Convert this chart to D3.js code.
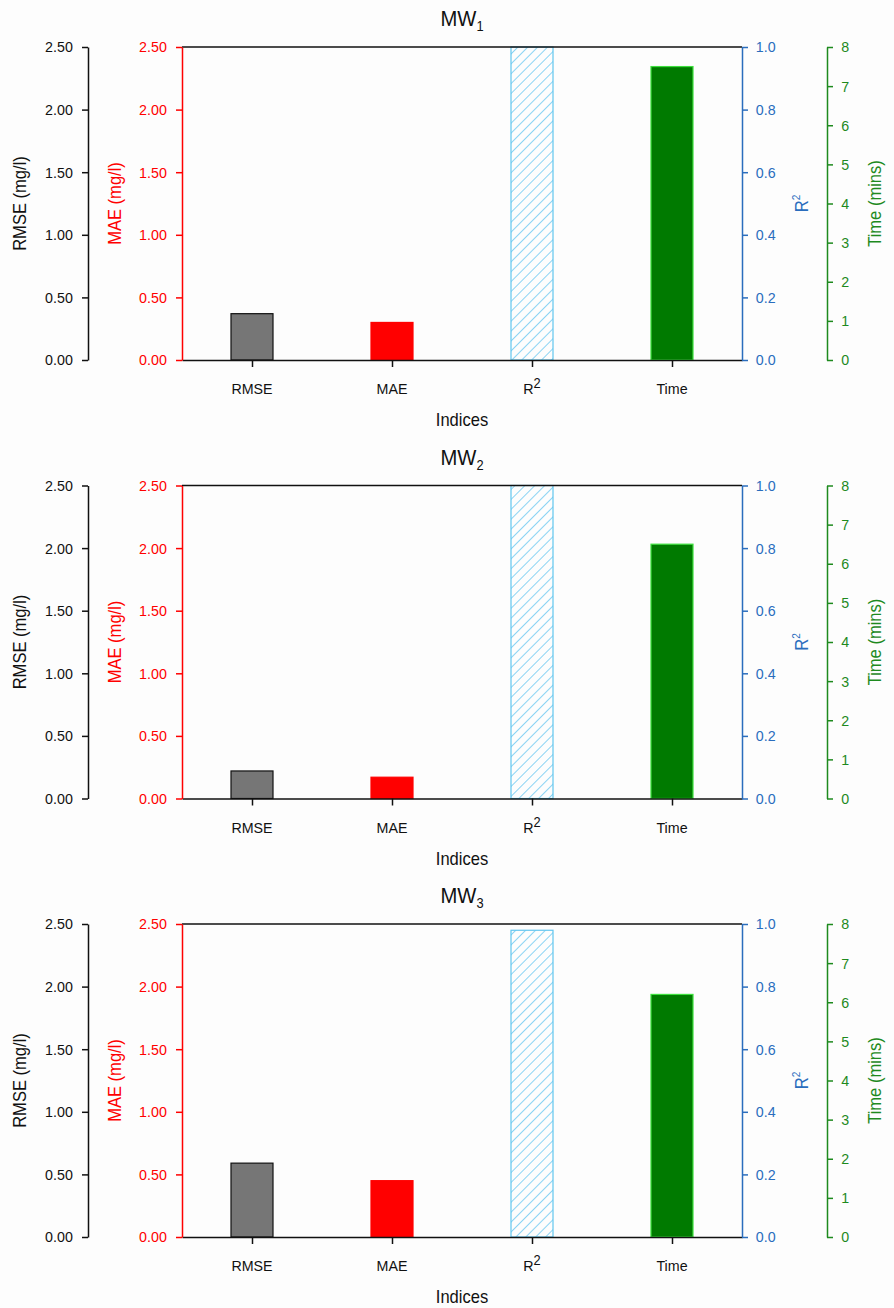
<!DOCTYPE html>
<html><head><meta charset="utf-8">
<script src="https://cdn.jsdelivr.net/npm/d3@7"></script>
<style>body{margin:0;background:#fdfdfd}svg{display:block}text{font-family:"Liberation Sans",Arial,sans-serif}</style>
</head><body>
<script>
const categories = ["RMSE","MAE","R2","Time"];
const panelNames = ["1","2","3"]; // MW subscripts
const rmseVals = [0.37, 0.22, 0.59];
const maeVals  = [0.30, 0.17, 0.45];
const r2Vals   = [1.00, 1.00, 0.98];
const timeVals = [7.5, 6.5, 6.2];
const errTicks  = [0, 0.5, 1.0, 1.5, 2.0, 2.5];
const r2Ticks   = [0, 0.2, 0.4, 0.6, 0.8, 1.0];
const timeTicks = [0,1,2,3,4,5,6,7,8];

const W = 894, H = 1308;
const SX = 0.92; // slight horizontal condensing of glyphs
const svg = d3.select("body").append("svg").attr("width", W).attr("height", H);
svg.append("rect").attr("width", W).attr("height", H).attr("fill", "#fdfdfd");

const defs = svg.append("defs");
const pat = defs.append("pattern").attr("id","hatch").attr("patternUnits","userSpaceOnUse")
  .attr("width",7).attr("height",7).attr("patternTransform","rotate(45)");
pat.append("line").attr("x1",0).attr("y1",0).attr("x2",0).attr("y2",7)
  .attr("stroke","#4bbdee").attr("stroke-width",1.3);

const BLACK="#111", RED="#ff0000", BLUE="#2a6dbd", GREEN="#1e8a1e";
const xL = 182, xR = 742, xBlack = 88, xGreen = 827;
const panelH = 313;
const tops = [47, 485.5, 924];

const x = d3.scaleBand().domain(categories).range([xL, xR]).paddingInner(0.7).paddingOuter(0.35);
const xc = d3.scalePoint().domain(categories).range([xL, xR]).padding(0.5);

function txt(g, x0, y0, rot) {
  return g.append("text").attr("transform", `translate(${x0},${y0})${rot ? " rotate(" + rot + ")" : ""} scale(${SX},1)`);
}

panelNames.forEach((nm, i) => {
  const top = tops[i], bot = top + panelH;
  const g = svg.append("g");
  const yErr = d3.scaleLinear().domain([0, 2.5]).range([bot, top]);
  const yR2 = d3.scaleLinear().domain([0, 1]).range([bot, top]);
  const yT = d3.scaleLinear().domain([0, 8]).range([bot, top]);

  // title
  const t = txt(g, 462, top - 21).attr("text-anchor","middle").attr("font-size", 22).attr("fill", BLACK);
  t.append("tspan").text("MW");
  t.append("tspan").attr("font-size", 14).attr("dy", 5).text(nm);

  // bars
  const bars = [
    {k:"RMSE", v: rmseVals[i], y: yErr, fill:"#767676", stroke:"#111"},
    {k:"MAE", v: maeVals[i], y: yErr, fill:RED, stroke:RED},
    {k:"R2", v: r2Vals[i], y: yR2, fill:"url(#hatch)", stroke:"#62c6ef"},
    {k:"Time", v: timeVals[i], y: yT, fill:"#007a00", stroke:"#3de03d"}
  ];
  g.selectAll("rect.bar").data(bars).join("rect").attr("class","bar")
    .attr("x", d => x(d.k)).attr("width", x.bandwidth())
    .attr("y", d => d.y(d.v)).attr("height", d => bot - d.y(d.v))
    .attr("fill", d => d.fill).attr("stroke", d => d.stroke).attr("stroke-width", 1.2);

  // top frame line
  g.append("line").attr("x1", xL).attr("x2", xR).attr("y1", top).attr("y2", top)
    .attr("stroke", BLACK).attr("stroke-width", 1.5);

  // x axis
  const xa = g.append("g").attr("transform", `translate(0,${bot})`)
    .call(d3.axisBottom(xc).tickSize(7).tickSizeOuter(0).tickFormat(() => ""));
  xa.select(".domain").attr("stroke", BLACK).attr("stroke-width", 1.5);
  xa.selectAll(".tick line").attr("stroke", BLACK).attr("stroke-width", 1.5);
  categories.forEach(c => {
    const tx = txt(g, xc(c), bot + 34).attr("text-anchor","middle").attr("font-size", 15.5).attr("fill", BLACK);
    if (c === "R2") { tx.append("tspan").text("R"); tx.append("tspan").attr("font-size", 14).attr("dy", -6).text("2"); }
    else tx.text(c);
  });
  txt(g, 462, bot + 66).attr("text-anchor","middle").attr("font-size", 18).attr("fill", BLACK).text("Indices");

  function styleAxis(sel, col) {
    sel.select(".domain").attr("stroke", col).attr("stroke-width", 1.5);
    sel.selectAll(".tick line").attr("stroke", col).attr("stroke-width", 1.5);
    sel.selectAll(".tick text").attr("fill", col).attr("font-size", 15.5)
      .attr("transform", `scale(${SX},1)`)
      .attr("font-family", '"Liberation Sans",Arial,sans-serif');
  }
  // black left axis
  const a1 = g.append("g").attr("transform", `translate(${xBlack},0)`)
    .call(d3.axisLeft(yErr).tickValues(errTicks).tickFormat(d3.format(".2f")).tickSize(6).tickSizeOuter(0).tickPadding(10.5));
  styleAxis(a1, BLACK);
  // red axis
  const a2 = g.append("g").attr("transform", `translate(${xL},0)`)
    .call(d3.axisLeft(yErr).tickValues(errTicks).tickFormat(d3.format(".2f")).tickSize(6).tickSizeOuter(0).tickPadding(10.5));
  styleAxis(a2, RED);
  // blue axis
  const a3 = g.append("g").attr("transform", `translate(${xR},0)`)
    .call(d3.axisRight(yR2).tickValues(r2Ticks).tickFormat(d3.format(".1f")).tickSize(6).tickSizeOuter(0).tickPadding(9));
  styleAxis(a3, BLUE);
  // green axis
  const a4 = g.append("g").attr("transform", `translate(${xGreen},0)`)
    .call(d3.axisRight(yT).tickValues(timeTicks).tickFormat(d3.format("d")).tickSize(6).tickSizeOuter(0).tickPadding(9.5));
  styleAxis(a4, GREEN);

  const midY = (top + bot) / 2;
  txt(g, 26, midY, -90).attr("text-anchor","middle").attr("font-size", 18).attr("fill", BLACK).text("RMSE (mg/l)");
  txt(g, 121, midY, -90).attr("text-anchor","middle").attr("font-size", 18).attr("fill", RED).text("MAE (mg/l)");
  const rl = txt(g, 808, midY, -90).attr("text-anchor","middle").attr("font-size", 18).attr("fill", BLUE);
  rl.append("tspan").text("R");
  rl.append("tspan").attr("font-size", 11).attr("dy", -8).text("2");
  txt(g, 881, midY, -90).attr("text-anchor","middle").attr("font-size", 18).attr("fill", GREEN).text("Time (mins)");
});
</script>
</body></html>
